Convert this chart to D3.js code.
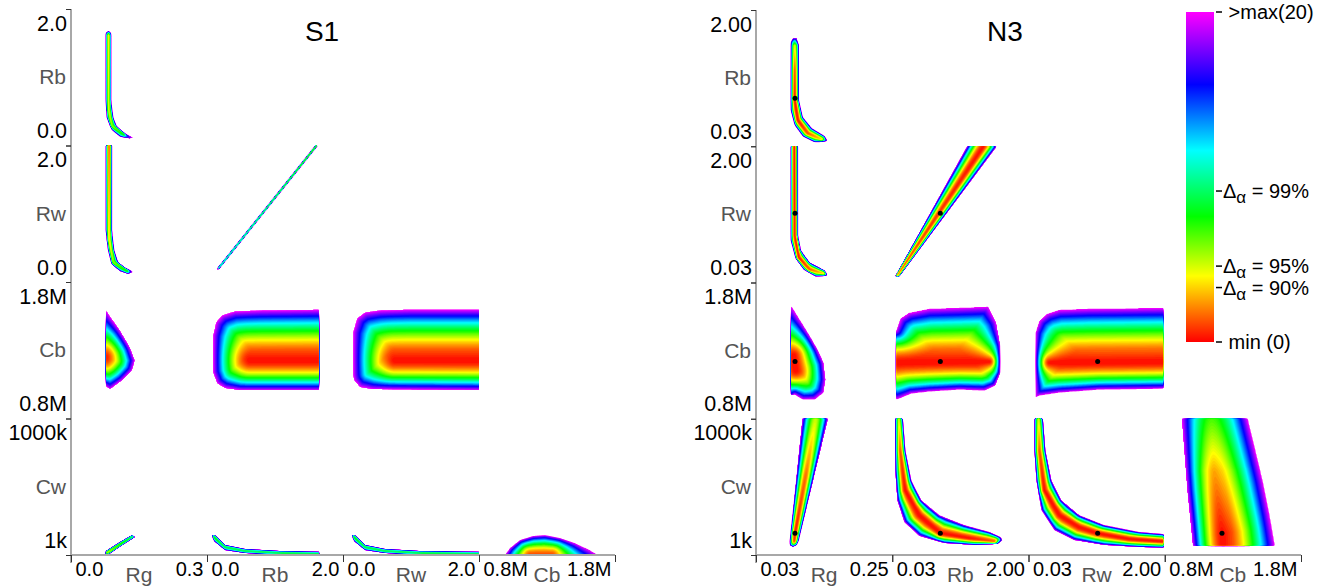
<!DOCTYPE html>
<html>
<head>
<meta charset="utf-8">
<script src="https://cdn.jsdelivr.net/npm/d3@7"></script>
<style>
    body { margin: 0; background: #fff; }
    svg text { font-family: 'Liberation Sans', Arial, Helvetica, sans-serif; }
</style>
</head>
<body>
<svg id="chart" width="1338" height="586"></svg>
<script>
// parameter order used by the domain / label arrays
var allParams = ['Rg', 'Rb', 'Rw', 'Cb', 'Cw'];
var colParams = ['Rg', 'Rb', 'Rw', 'Cb'];
var rowParams = ['Rb', 'Rw', 'Cb', 'Cw'];

// axis ranges (Cb in M, Cw in k)
var s1Domains = [[0.0, 0.3], [0.0, 2.0], [0.0, 2.0], [0.8, 1.8], [1, 1000]];
var s1TickLabels = [['0.0', '0.3'], ['0.0', '2.0'], ['0.0', '2.0'], ['0.8M', '1.8M'], ['1k', '1000k']];
var n3Domains = [[0.03, 0.25], [0.03, 2.0], [0.03, 2.0], [0.8, 1.8], [1, 1000]];
var n3TickLabels = [['0.03', '0.25'], ['0.03', '2.00'], ['0.03', '2.00'], ['0.8M', '1.8M'], ['1k', '1000k']];
var n3BestFit = [0.093, 0.725, 1.03, 1.22, 161];

// colour map of the chi2 landscape
var colorStopValues = [0, 4, 7.6, 11.6, 15.6, 20];
var colorStopColors = ['#ff0000', '#ffff00', '#00ff00', '#00ffff', '#0000ff', '#ff00ff'];
var colorbarTickValues = [20, 9.15, 4.6, 3.3, 0];
var colorbarTickLabels = ['\u00a0>max(20)', 'Δα = 99%', 'Δα = 95%', 'Δα = 90%', '\u00a0min (0)'];

// regions: outer = >max contour, core = valley line [x, y, chi2]
var s1Blobs = [
    { x: 'Rg', y: 'Rb',
      outer: [[0.077,1.65],[0.083,1.68],[0.088,1.65],[0.088,0.67],[0.093,0.41],[0.101,0.28],[0.119,0.175],[0.137,0.117],[0.130,0.10],[0.108,0.13],[0.090,0.23],[0.079,0.41],[0.077,0.67]],
      core: [[0.083,1.61,3],[0.083,0.53,4],[0.090,0.29,5],[0.117,0.16,7]] },
    { x: 'Rg', y: 'Rw',
      outer: [[0.077,2.09],[0.090,2.09],[0.090,0.76],[0.095,0.47],[0.104,0.29],[0.119,0.21],[0.137,0.15],[0.126,0.12],[0.108,0.16],[0.090,0.26],[0.082,0.47],[0.077,0.76]],
      core: [[0.084,2.09,1],[0.084,0.62,3],[0.093,0.29,5],[0.124,0.16,7]] },
    { x: 'Rb', y: 'Rw',
      outer: [[0.145,0.19],[1.645,2.06],[1.675,2.06],[0.175,0.19]],
      core: [[0.16,0.19,7],[1.66,2.06,3]] },
    { x: 'Rg', y: 'Cb', xMin: 0.078,
      outer: [[0.077,1.60],[0.086,1.55],[0.108,1.447],[0.130,1.322],[0.141,1.226],[0.135,1.153],[0.113,1.079],[0.086,1.013],[0.077,1.035]],
      core: [[0.073,1.249,0]] },
    { x: 'Rb', y: 'Cb', xMax: 1.654,
      outer: [[0.088,1.138],[0.088,1.41],[0.132,1.506],[0.22,1.557],[0.41,1.587],[0.78,1.594],[1.81,1.60],[1.81,1.006],[0.485,1.006],[0.265,1.021],[0.147,1.057]],
      core: [[0.632,1.226,0],[1.81,1.226,0]] },
    { x: 'Rw', y: 'Cb',
      outer: [[0.147,1.116],[0.147,1.432],[0.206,1.535],[0.324,1.579],[0.544,1.594],[0.985,1.60],[2.16,1.60],[2.16,1.006],[0.441,1.013],[0.25,1.028],[0.162,1.079]],
      core: [[0.765,1.226,0],[2.16,1.226,0]] },
    { x: 'Rg', y: 'Cw',
      outer: [[0.075,8],[0.084,8],[0.110,67],[0.141,132],[0.135,147],[0.108,96],[0.077,30]],
      core: [[0.079,16,4],[0.137,140,8]] },
    { x: 'Rb', y: 'Cw', xMax: 1.654,
      outer: [[0.074,147],[0.118,147],[0.265,74],[0.559,45],[1.074,30],[1.81,23],[1.81,1],[1.074,1],[0.559,16],[0.265,37],[0.103,103]],
      core: [[0.088,140,7],[0.265,59,8],[0.559,30,8],[1.074,16,8],[1.81,8,8]] },
    { x: 'Rw', y: 'Cw',
      outer: [[0.132,147],[0.176,147],[0.324,74],[0.618,45],[1.132,30],[2.16,23],[2.16,1],[1.132,1],[0.618,16],[0.324,37],[0.162,103]],
      core: [[0.147,140,7],[0.324,59,8],[0.618,30,8],[1.132,16,8],[2.16,8,8]] },
    { x: 'Cb', y: 'Cw',
      outer: [[0.991,1],[1.028,52],[1.101,110],[1.197,140],[1.285,147],[1.396,125],[1.506,88],[1.616,37],[1.675,1]],
      core: [[1.175,1,1],[1.337,1,1]] }
];

var n3Blobs = [
    { x: 'Rg', y: 'Rb',
      outer: [[0.0862,1.536],[0.0894,1.594],[0.0958,1.594],[0.0991,1.493],[0.0991,0.696],[0.1055,0.450],[0.120,0.291],[0.1408,0.175],[0.1456,0.102],[0.1248,0.088],[0.1055,0.175],[0.0926,0.334],[0.0862,0.551]],
      core: [[0.0926,1.48,4],[0.0926,1.131,1],[0.0926,0.696,0],[0.0975,0.407,0],[0.1135,0.218,1],[0.136,0.131,3]] },
    { x: 'Rg', y: 'Rw',
      outer: [[0.0862,2.087],[0.0975,2.087],[0.0975,0.711],[0.1023,0.494],[0.1167,0.320],[0.1408,0.204],[0.1456,0.131],[0.1264,0.117],[0.1071,0.218],[0.0942,0.378],[0.0862,0.638]],
      core: [[0.0918,2.087,0],[0.0926,0.711,0],[0.0991,0.392,0],[0.1167,0.218,1],[0.1392,0.160,3]] },
    { x: 'Rb', y: 'Rw',
      outer: [[0.073,0.117],[1.160,2.087],[1.609,2.087],[0.131,0.117]],
      core: [[0.102,0.131,1],[1.406,2.087,0]] },
    { x: 'Rg', y: 'Cb', xMin: 0.087,
      outer: [[0.0605,1.447],[0.0766,1.594],[0.0878,1.624],[0.1007,1.528],[0.1167,1.410],[0.1296,1.307],[0.1392,1.212],[0.1424,1.087],[0.1392,0.991],[0.1248,0.940],[0.1055,0.940],[0.0926,0.976],[0.0766,0.991],[0.0605,1.079]],
      core: [[0.091,1.263,0],[0.0942,1.153,0]] },
    { x: 'Rb', y: 'Cb', xMin: 0.095,
      outer: [[0.088,1.447],[0.146,1.535],[0.276,1.579],[0.566,1.609],[1.0,1.616],[1.421,1.624],[1.536,1.506],[1.594,1.337],[1.594,1.138],[1.522,1.043],[1.363,1.006],[1.0,1.013],[0.566,0.999],[0.305,0.984],[0.131,0.947],[0.088,0.940]],
      core: [[0.088,1.212,0],[1.435,1.219,0]] },
    { x: 'Rw', y: 'Cb', xMax: 1.98,
      outer: [[0.131,1.432],[0.188,1.521],[0.303,1.572],[0.476,1.601],[0.907,1.609],[2.201,1.616],[2.201,1.021],[1.051,1.013],[0.476,0.991],[0.188,0.969],[0.131,0.954]],
      core: [[0.332,1.212,0],[2.201,1.219,0]] },
    { x: 'Rg', y: 'Cw',
      outer: [[0.0846,103],[0.1055,1043],[0.1488,1043],[0.0991,110],[0.0958,74],[0.0894,59],[0.0846,74]],
      core: [[0.0918,103,0.5],[0.093,161,0],[0.1103,584,1.5],[0.128,1043,5]] },
    { x: 'Rb', y: 'Cw',
      outer: [[0.175,1043],[0.218,766],[0.305,548],[0.450,402],[0.711,293],[1.073,220],[1.435,169],[1.594,132],[1.623,110],[1.551,81],[1.218,74],[0.783,88],[0.421,140],[0.204,242],[0.102,402],[0.073,621],[0.073,1043]],
      core: [[0.124,1043,5],[0.146,766,1],[0.218,475,0],[0.421,293,0],[0.725,161,0],[1.145,125,0],[1.507,103,1]] },
    { x: 'Rw', y: 'Cw', xMax: 1.98,
      outer: [[0.231,1043],[0.274,766],[0.361,548],[0.505,402],[0.763,293],[1.123,220],[1.626,169],[2.129,147],[2.129,52],[1.626,59],[1.123,74],[0.691,110],[0.404,183],[0.217,329],[0.145,548],[0.116,766],[0.116,1043]],
      core: [[0.174,1043,5],[0.188,766,1],[0.260,475,0],[0.476,293,0],[0.763,205,0],[1.022,161,0],[1.482,118,0],[2.129,96,0]] },
    { x: 'Cb', y: 'Cw', yMin: 70,
      outer: [[0.919,1043],[0.941,766],[0.963,475],[0.993,183],[1.007,37],[1.615,37],[1.570,293],[1.519,548],[1.467,766],[1.40,1043]],
      core: [[1.23,37,0],[1.222,161,0],[1.163,621,2.5],[1.141,1043,7]] }
];

var panels = [
    { title: 'S1', titleX: 322, x0: 71, y0: 9, cw: 136, ch: 136.5,
      domains: s1Domains, labels: s1TickLabels, blobs: s1Blobs, best: null },
    { title: 'N3', titleX: 1005, x0: 756, y0: 10, cw: 136.25, ch: 136.25,
      domains: n3Domains, labels: n3TickLabels, blobs: n3Blobs, best: n3BestFit }
];

var chi2Max = 20;
var color = d3.scaleLinear().domain(colorStopValues).range(colorStopColors).clamp(true);
var svg = d3.select('#chart');

function colScale(panel, c) {
    var d = panel.domains[allParams.indexOf(colParams[c])];
    return d3.scaleLinear().domain(d).range([panel.x0 + c * panel.cw, panel.x0 + (c + 1) * panel.cw]);
}

function rowScale(panel, r) {
    var d = panel.domains[allParams.indexOf(rowParams[r])];
    return d3.scaleLinear().domain(d).range([panel.y0 + (r + 1) * panel.ch, panel.y0 + r * panel.ch]);
}

function segDist(px, py, a, b) {
    var dx = b[0] - a[0], dy = b[1] - a[1];
    var len2 = dx * dx + dy * dy;
    var u = len2 > 0 ? ((px - a[0]) * dx + (py - a[1]) * dy) / len2 : 0;
    u = Math.max(0, Math.min(1, u));
    var qx = a[0] + u * dx, qy = a[1] + u * dy;
    return { d: Math.hypot(px - qx, py - qy), u: u };
}

// chi2 field on a 1px grid of one cell, stored as 20 - chi2 (negative outside)
function blobField(blob, sx, sy, rect, n, m) {
    var outer = blob.outer.map(p => [sx(p[0]), sy(p[1])]);
    var core = blob.core.map(p => [sx(p[0]), sy(p[1]), p[2]]);
    var cx0 = rect[0], cx1 = rect[1], cy0 = rect[2], cy1 = rect[3];
    if (blob.xMin != null) cx0 = Math.max(cx0, sx(blob.xMin));
    if (blob.xMax != null) cx1 = Math.min(cx1, sx(blob.xMax));
    if (blob.yMin != null) cy1 = Math.min(cy1, sy(blob.yMin));
    if (blob.yMax != null) cy0 = Math.max(cy0, sy(blob.yMax));

    // edges cut away by the grid limits do not count as contour
    var edges = [];
    for (let i = 0; i < outer.length; i++) {
        var a = outer[i], b = outer[(i + 1) % outer.length];
        var mx = (a[0] + b[0]) / 2, my = (a[1] + b[1]) / 2;
        if (mx > cx0 + 0.6 && mx < cx1 - 0.6 && my > cy0 + 0.6 && my < cy1 - 0.6) edges.push([a, b]);
    }

    var values = new Array(n * m);
    for (let j = 0; j < m; j++) {
        for (let i = 0; i < n; i++) {
            var px = rect[0] + i + 0.5, py = rect[2] + j + 0.5;
            if (px < cx0 || px > cx1 || py < cy0 || py > cy1 || !d3.polygonContains(outer, [px, py])) {
                values[j * n + i] = -2;
                continue;
            }
            var db = Infinity;
            for (let k = 0; k < edges.length; k++) {
                db = Math.min(db, segDist(px, py, edges[k][0], edges[k][1]).d);
            }
            var dc = Infinity, vc = 0;
            if (core.length == 1) {
                dc = Math.hypot(px - core[0][0], py - core[0][1]);
                vc = core[0][2];
            } else {
                for (let k = 0; k < core.length - 1; k++) {
                    var s = segDist(px, py, core[k], core[k + 1]);
                    if (s.d < dc) {
                        dc = s.d;
                        vc = core[k][2] + s.u * (core[k + 1][2] - core[k][2]);
                    }
                }
            }
            var t = (dc + db) > 0 ? dc / (dc + db) : 0;
            if (!isFinite(t)) t = 0;
            var v = vc + (chi2Max - vc) * Math.pow(t, 1.8);
            values[j * n + i] = chi2Max - v;
        }
    }
    return values;
}

function renderPanel(panel) {
    var levels = d3.range(0, chi2Max, 0.25);
    var path = d3.geoPath();

    panel.blobs.forEach(function(blob) {
        var c = colParams.indexOf(blob.x);
        var r = rowParams.indexOf(blob.y);
        var sx = colScale(panel, c), sy = rowScale(panel, r);
        var rect = [sx.range()[0], sx.range()[1], sy.range()[1], sy.range()[0]];
        var n = Math.round(rect[1] - rect[0]), m = Math.round(rect[3] - rect[2]);
        var values = blobField(blob, sx, sy, rect, n, m);
        var polys = d3.contours().size([n, m]).thresholds(levels)(values)
            .filter(p => p.coordinates.length > 0);

        svg.append('g')
            .attr('transform', 'translate(' + rect[0] + ',' + rect[2] + ')')
            .selectAll('path')
            .data(polys)
            .enter()
            .append('path')
            .attr('d', path)
            .attr('fill', d => color(chi2Max - d.value));

        if (panel.best) {
            svg.append('circle')
                .attr('cx', sx(panel.best[allParams.indexOf(blob.x)]))
                .attr('cy', sy(panel.best[allParams.indexOf(blob.y)]))
                .attr('r', 2.5)
                .attr('fill', 'black');
        }
    });

    var yBottom = panel.y0 + 4 * panel.ch;
    var xRight = panel.x0 + 4 * panel.cw;

    svg.append('line')
        .attr('x1', panel.x0).attr('x2', panel.x0)
        .attr('y1', panel.y0).attr('y2', yBottom + 8)
        .attr('stroke', '#a8a8a8').attr('stroke-width', 2);
    svg.append('line')
        .attr('x1', panel.x0).attr('x2', xRight)
        .attr('y1', yBottom).attr('y2', yBottom)
        .attr('stroke', '#a8a8a8').attr('stroke-width', 2);

    rowParams.forEach(function(p, r) {
        var sy = rowScale(panel, r);
        var lab = panel.labels[allParams.indexOf(p)];
        var ax = svg.append('g')
            .attr('transform', 'translate(' + panel.x0 + ',0)')
            .attr('color', '#333')
            .call(d3.axisLeft(sy).tickValues(sy.domain()).tickSize(5).tickFormat((d, i) => lab[i]));
        ax.select('.domain').remove();
        ax.attr('font-size', 21.5).attr('font-family', null);
        ax.selectAll('text')
            .attr('x', -4)
            .attr('dy', (d, i) => i == 0 ? -8 : 21)
            .attr('fill', '#000');

        svg.append('text')
            .attr('x', panel.x0 - 5)
            .attr('y', (sy.range()[0] + sy.range()[1]) / 2 + 7)
            .attr('text-anchor', 'end')
            .attr('font-size', 21)
            .attr('fill', '#555')
            .text(p);
    });

    colParams.forEach(function(p, c) {
        var sx = colScale(panel, c);
        var lab = panel.labels[allParams.indexOf(p)];
        var ax = svg.append('g')
            .attr('transform', 'translate(0,' + yBottom + ')')
            .attr('color', '#333')
            .call(d3.axisBottom(sx).tickValues(sx.domain()).tickSize(7).tickFormat((d, i) => lab[i]));
        ax.select('.domain').remove();
        ax.attr('font-size', 20).attr('font-family', null);
        ax.selectAll('text')
            .attr('y', 21)
            .attr('dy', 0)
            .attr('x', (d, i) => i == 0 ? 4 : -4)
            .attr('text-anchor', (d, i) => i == 0 ? 'start' : 'end')
            .attr('fill', '#000');

        svg.append('text')
            .attr('x', (sx.range()[0] + sx.range()[1]) / 2)
            .attr('y', yBottom + 27)
            .attr('text-anchor', 'middle')
            .attr('font-size', 21)
            .attr('fill', '#555')
            .text(p);
    });

    svg.append('text')
        .attr('x', panel.titleX)
        .attr('y', 41)
        .attr('text-anchor', 'middle')
        .attr('font-size', 28)
        .text(panel.title);
}

function renderColorbar() {
    var cb = { x: 1186, w: 28, top: 12, bottom: 342 };
    var yScale = d3.scaleLinear().domain([0, chi2Max]).range([cb.bottom, cb.top]);

    var grad = svg.append('defs').append('linearGradient')
        .attr('id', 'cbar')
        .attr('x1', 0).attr('y1', 1).attr('x2', 0).attr('y2', 0);
    grad.selectAll('stop')
        .data(colorStopValues)
        .enter()
        .append('stop')
        .attr('offset', d => d / chi2Max)
        .attr('stop-color', d => color(d));

    svg.append('rect')
        .attr('x', cb.x).attr('y', cb.top)
        .attr('width', cb.w).attr('height', cb.bottom - cb.top)
        .attr('fill', 'url(#cbar)');

    colorbarTickValues.forEach(function(v, i) {
        var y = yScale(v);
        svg.append('line')
            .attr('x1', cb.x + cb.w + 2).attr('x2', cb.x + cb.w + 8)
            .attr('y1', y).attr('y2', y)
            .attr('stroke', '#000').attr('stroke-width', 1.5);
        var t = svg.append('text')
            .attr('x', cb.x + cb.w + 9)
            .attr('y', y + 7)
            .attr('font-size', 20);
        var lab = colorbarTickLabels[i];
        if (lab.indexOf('Δα') == 0) {
            t.append('tspan').text('Δ');
            t.append('tspan').attr('font-size', 17).attr('dy', 5).text('α');
            t.append('tspan').attr('dy', -5).text(lab.slice(2));
        } else {
            t.text(lab);
        }
    });
}

panels.forEach(renderPanel);
renderColorbar();
</script>
</body>
</html>
